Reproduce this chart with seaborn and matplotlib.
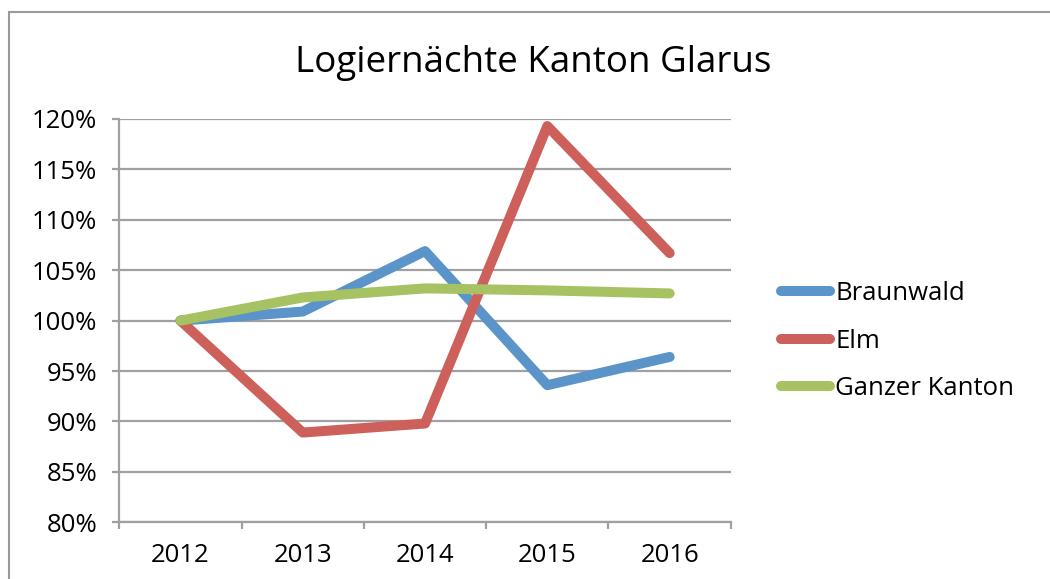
import matplotlib
matplotlib.use("Agg")
import matplotlib.pyplot as plt
from matplotlib.patches import Rectangle
from matplotlib.ticker import FixedLocator, FuncFormatter
import seaborn as sns
import pandas as pd

years = ["2012", "2013", "2014", "2015", "2016"]
braunwald = [100.0, 100.9, 106.9, 93.6, 96.4]
elm = [100.0, 88.9, 89.8, 119.3, 106.7]
ganzer_kanton = [100.0, 102.3, 103.2, 103.0, 102.7]
series_names = ["Braunwald", "Elm", "Ganzer Kanton"]
title = "Logiernächte Kanton Glarus"

colors = {"Braunwald": "#5B94C8", "Elm": "#CD605A", "Ganzer Kanton": "#A6C262"}

df = pd.DataFrame({
    "Jahr": years * 3,
    "Wert": braunwald + elm + ganzer_kanton,
    "Serie": [n for n in series_names for _ in years],
})

sns.set_style("white")
plt.rcParams["font.family"] = ["Open Sans", "DejaVu Sans"]
plt.rcParams["text.color"] = "black"

fig = plt.figure(figsize=(10.5, 5.79), dpi=100)
ax = fig.add_axes([0.1136, 0.0979, 0.5824, 0.6966])

sns.lineplot(data=df, x="Jahr", y="Wert", hue="Serie", palette=colors,
             linewidth=7.2, ax=ax, sort=False, legend=False,
             solid_capstyle="round", solid_joinstyle="round")

grid_c = "#A0A0A0"
fs = 18.5
ax.set_ylim(80, 120)
ax.set_xlim(-0.5, len(years) - 0.5)
ax.set_yticks(range(80, 121, 5))
ax.yaxis.set_major_formatter(FuncFormatter(lambda v, p: f"{int(v)}%"))
ax.set_xticks(range(len(years)))
ax.set_xticklabels(years)
ax.xaxis.set_minor_locator(FixedLocator([i - 0.5 for i in range(len(years) + 1)]))
ax.yaxis.grid(True, color=grid_c, linewidth=1.6)
ax.set_axisbelow(True)
ax.set_xlabel("")
ax.set_ylabel("")
for s in ["top", "right"]:
    ax.spines[s].set_visible(False)
for s in ["left", "bottom"]:
    ax.spines[s].set_color(grid_c)
    ax.spines[s].set_linewidth(1.6)
ax.tick_params(axis="y", which="major", length=5, width=1.6, color=grid_c,
               labelsize=fs, pad=11, left=True)
ax.tick_params(axis="x", which="major", length=0, labelsize=fs, pad=15)
ax.tick_params(axis="x", which="minor", length=5, width=1.6, color=grid_c, bottom=True)
for lab in ax.get_xticklabels() + ax.get_yticklabels():
    lab.set_color("black")

fig.text(0.508, 1 - 71.7 / 579, title, ha="center", va="baseline",
         fontsize=26.5, color="black")

handles = [plt.Line2D([0], [0], color=colors[n], linewidth=7.2,
                      solid_capstyle="round") for n in series_names]
fig.legend(handles, series_names, loc="center left",
           bbox_to_anchor=(0.734, 0.411), frameon=False, fontsize=fs,
           handlelength=1.9, handletextpad=0.22, labelspacing=0.87,
           borderaxespad=0)

fig.patches.append(Rectangle((9 / 1050, -0.1), 1.1, 1.1 - 12 / 579,
                             transform=fig.transFigure, fill=False,
                             edgecolor="#9A9A9A", linewidth=1.5, zorder=0))

fig.savefig("out.png", dpi=100)
